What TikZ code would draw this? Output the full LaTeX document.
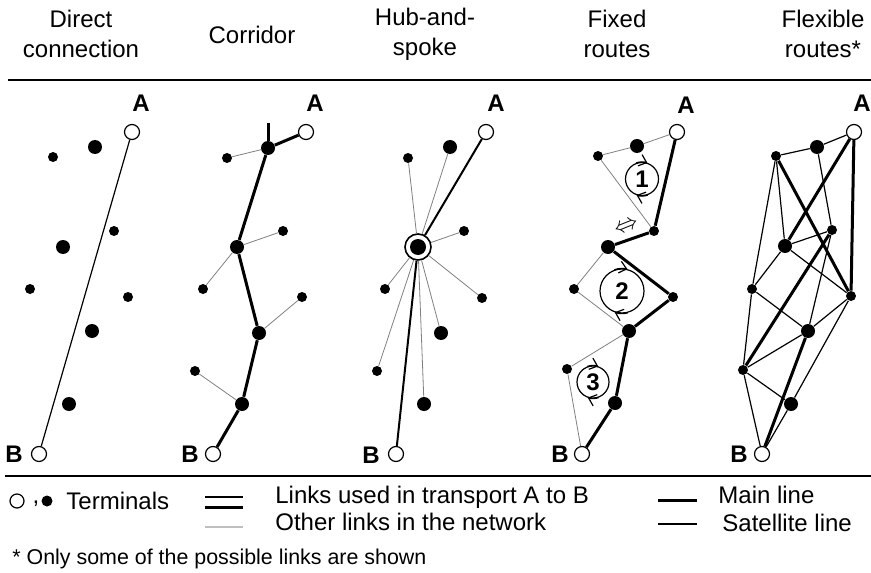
\documentclass[tikz,border=0pt]{standalone}
\usepackage{fontspec}
\setmainfont{Liberation Sans}
\usetikzlibrary{arrows.meta}

\begin{document}
\begin{tikzpicture}[x=0.5pt,y=-0.5pt,
        every node/.style={inner sep=0pt,font=\fontsize{12}{15}\selectfont},
        terminal/.style={circle,draw,fill=white,line width=0.6pt,minimum size=7.5pt},
        bigstop/.style={circle,fill=black,minimum size=7pt},
        smallstop/.style={circle,fill=black,minimum size=5pt},
        endlabel/.style={font=\fontsize{12}{15}\selectfont\bfseries},
        loopnode/.style={circle,draw,line width=0.6pt,font=\fontsize{12}{15}\selectfont\bfseries},
        looparrow/.style={line width=0.6pt,-{Straight Barb[length=3.5pt,width=6pt]}},
        mainlink/.style={line width=1.5pt},
        sublink/.style={line width=1pt},
        satlink/.style={line width=0.6pt},
        otherlink/.style={line width=0.4pt,gray}]
                \useasboundingbox (0,0) rectangle (871,572);

                % headings
                \node[align=center] (hdirect) at (81,34){Direct\\connection};
                \node (hcorridor) at (252,35){Corridor};
                \node[align=center] (hhub) at (425,34){Hub-and-\\spoke};
                \node[align=center] (hfixed) at (617,34){Fixed\\routes};
                \node[align=center] (hflex) at (823,34){Flexible\\routes*};
                \coordinate (topl) at (8,80);
                \coordinate (topr) at (871,80);
                \draw[line width=1pt] (topl) -- (topr);

                % direct connection
                \node[terminal] (A1) at (132,132){};
                \node[terminal] (B1) at (39,454){};
                \node[endlabel] (lA1) at (141,103){A};
                \node[endlabel] (lB1) at (14,454){B};
                \node[bigstop] (d1) at (95,147){};
                \node[smallstop] (d2) at (53,157){};
                \node[smallstop] (d3) at (114,231){};
                \node[bigstop] (d4) at (63,247){};
                \node[smallstop] (d5) at (30,289){};
                \node[smallstop] (d6) at (128,297){};
                \node[bigstop] (d7) at (92,331){};
                \node[bigstop] (d8) at (69,404){};

                \draw[satlink] (A1) -- (B1);

                % corridor
                \node[terminal] (A2) at (306,132){};
                \node[terminal] (B2) at (213,454){};
                \node[endlabel] (lA2) at (315,103){A};
                \node[endlabel] (lB2) at (190,454){B};
                \node[bigstop] (N1) at (268,148){};
                \node[bigstop] (N2) at (237,247){};
                \node[bigstop] (N3) at (259,333){};
                \node[bigstop] (N4) at (242,404){};
                \node[smallstop] (s1) at (227,158){};
                \node[smallstop] (s2) at (283,231){};
                \node[smallstop] (s3) at (203,289){};
                \node[smallstop] (s4) at (302,297){};
                \node[smallstop] (s5) at (195,371){};
                \coordinate (tick) at (268,123);

                \draw[mainlink] (A2) -- (N1);
                \draw[mainlink] (tick) -- (N1);
                \draw[mainlink] (N1) -- (N2);
                \draw[mainlink] (N2) -- (N3);
                \draw[mainlink] (N3) -- (N4);
                \draw[mainlink] (N4) -- (B2);
                \draw[otherlink] (N1) -- (s1);
                \draw[otherlink] (N2) -- (s2);
                \draw[otherlink] (N2) -- (s3);
                \draw[otherlink] (N3) -- (s4);
                \draw[otherlink] (N4) -- (s5);

                % hub-and-spoke
                \node[terminal] (A3) at (486,132){};
                \node[terminal] (B3) at (396,454){};
                \node[endlabel] (lA3) at (496,103){A};
                \node[endlabel] (lB3) at (371,455){B};
                \node[bigstop,minimum size=8pt] (hub) at (418,247){};
                \node[circle,draw,line width=0.8pt,minimum size=13pt] (hubring) at (418,247){};
                \node[bigstop] (h1) at (450,147){};
                \node[smallstop] (h2) at (408,158){};
                \node[smallstop] (h3) at (464,231){};
                \node[smallstop] (h4) at (385,289){};
                \node[smallstop] (h5) at (482,298){};
                \node[bigstop] (h6) at (441,333){};
                \node[smallstop] (h7) at (377,371){};
                \node[bigstop] (h8) at (424,404){};

                \draw[sublink] (hubring) -- (A3);
                \draw[sublink] (hubring) -- (B3);
                \draw[otherlink] (hubring) -- (h1);
                \draw[otherlink] (hubring) -- (h2);
                \draw[otherlink] (hubring) -- (h3);
                \draw[otherlink] (hubring) -- (h4);
                \draw[otherlink] (hubring) -- (h5);
                \draw[otherlink] (hubring) -- (h6);
                \draw[otherlink] (hubring) -- (h7);
                \draw[otherlink] (hubring) -- (h8);

                % fixed routes
                \node[terminal] (A4) at (677,132){};
                \node[terminal] (B4) at (582,454){};
                \node[endlabel] (lA4) at (686,105){A};
                \node[endlabel] (lB4) at (560,454){B};
                \node[bigstop] (P1) at (637,146){};
                \node[smallstop] (P2) at (598,156){};
                \node[smallstop] (P3) at (654,231){};
                \node[bigstop] (P4) at (608,247){};
                \node[smallstop] (P5) at (574,289){};
                \node[smallstop] (P6) at (673,297){};
                \node[bigstop] (P7) at (629,331){};
                \node[smallstop] (P8) at (567,369){};
                \node[bigstop] (P9) at (615,403){};

                \draw[mainlink] (A4) -- (P3);
                \draw[mainlink] (P3) -- (P4);
                \draw[mainlink] (P4) -- (P6);
                \draw[mainlink] (P6) -- (P7);
                \draw[mainlink] (P7) -- (P9);
                \draw[mainlink] (P9) -- (B4);
                \draw[otherlink] (A4) -- (P1);
                \draw[otherlink] (P1) -- (P2);
                \draw[otherlink] (P2) -- (P3);
                \draw[otherlink] (P4) -- (P5);
                \draw[otherlink] (P5) -- (P7);
                \draw[otherlink] (P7) -- (P8);
                \draw[otherlink] (P8) -- (B4);

                \node[loopnode,minimum size=16.5pt] (loop1) at (642,179){1};
                \node[loopnode,minimum size=22pt] (loop2) at (622,291){2};
                \node[loopnode,minimum size=16pt] (loop3) at (593,382){3};
                \draw[looparrow] (loop1.110) arc[start angle=110,end angle=70,radius=8.25pt];
                \draw[looparrow] (loop1.290) arc[start angle=290,end angle=250,radius=8.25pt];
                \draw[looparrow] (loop2.110) arc[start angle=110,end angle=75,radius=11pt];
                \draw[looparrow] (loop2.285) arc[start angle=285,end angle=250,radius=11pt];
                \draw[looparrow] (loop3.110) arc[start angle=110,end angle=70,radius=8pt];
                \draw[looparrow] (loop3.290) arc[start angle=290,end angle=250,radius=8pt];
                \node[rotate=22] (swap) at (627,227){\fontsize{13}{13}\selectfont$\Leftrightarrow$};

                % flexible routes
                \node[terminal] (A5) at (854,132){};
                \node[terminal] (B5) at (762,454){};
                \node[endlabel] (lA5) at (862,103){A};
                \node[endlabel] (lB5) at (739,454){B};
                \node[bigstop] (F1) at (817,147){};
                \node[smallstop] (F2) at (776,156){};
                \node[smallstop] (F3) at (832,230){};
                \node[bigstop] (F4) at (785,246){};
                \node[smallstop] (F5) at (752,289){};
                \node[smallstop] (F6) at (851,296){};
                \node[bigstop] (F7) at (808,331){};
                \node[smallstop] (F8) at (743,370){};
                \node[bigstop] (F9) at (791,404){};

                \draw[mainlink] (A5) -- (F4);
                \draw[mainlink] (A5) -- (F6);
                \draw[mainlink] (F2) -- (F6);
                \draw[mainlink] (F3) -- (F8);
                \draw[mainlink] (F7) -- (B5);
                \draw[satlink] (A5) -- (F1);
                \draw[satlink] (F1) -- (F2);
                \draw[satlink] (F2) -- (F4);
                \draw[satlink] (F2) -- (F5);
                \draw[satlink] (F1) -- (F3);
                \draw[satlink] (F3) -- (F4);
                \draw[satlink] (F4) -- (F5);
                \draw[satlink] (F4) -- (F6);
                \draw[satlink] (F3) -- (F7);
                \draw[satlink] (F5) -- (F7);
                \draw[satlink] (F5) -- (F8);
                \draw[satlink] (F6) -- (F7);
                \draw[satlink] (F6) -- (F9);
                \draw[satlink] (F7) -- (F8);
                \draw[satlink] (F8) -- (F9);
                \draw[satlink] (F8) -- (B5);
                \draw[satlink] (F9) -- (B5);

                % legend
                \coordinate (botl) at (5,476);
                \coordinate (botr) at (871,476);
                \draw[line width=1pt] (botl) -- (botr);

                \node[terminal,minimum size=7pt] (legopen) at (17,501){};
                \node (legcomma) at (36,504){,};
                \node[bigstop,minimum size=5.5pt] (legfull) at (47,501){};
                \node[anchor=west] (legterm) at (66,501){Terminals};

                \coordinate (usedA) at (205,497);
                \coordinate (usedB) at (243,497);
                \coordinate (usedC) at (205,507);
                \coordinate (usedD) at (243,507);
                \coordinate (otherA) at (205,527);
                \coordinate (otherB) at (243,527);
                \draw[line width=0.8pt] (usedA) -- (usedB);
                \draw[mainlink] (usedC) -- (usedD);
                \draw[line width=0.6pt,lightgray] (otherA) -- (otherB);
                \node[anchor=west] (legused) at (275,497){Links used in transport A to B};
                \node[anchor=west] (legother) at (275,522){Other links in the network};

                \coordinate (mainA) at (658,500);
                \coordinate (mainB) at (697,500);
                \coordinate (satA) at (658,524);
                \coordinate (satB) at (697,524);
                \draw[mainlink] (mainA) -- (mainB);
                \draw[satlink] (satA) -- (satB);
                \node[anchor=west] (legmain) at (718,495){Main line};
                \node[anchor=west] (legsat) at (722,523){Satellite line};

                \node[anchor=west,font=\fontsize{10.7}{13}\selectfont] (legnote) at (12,559){* Only some of the possible links are shown};
        \end{tikzpicture}
\end{document}
